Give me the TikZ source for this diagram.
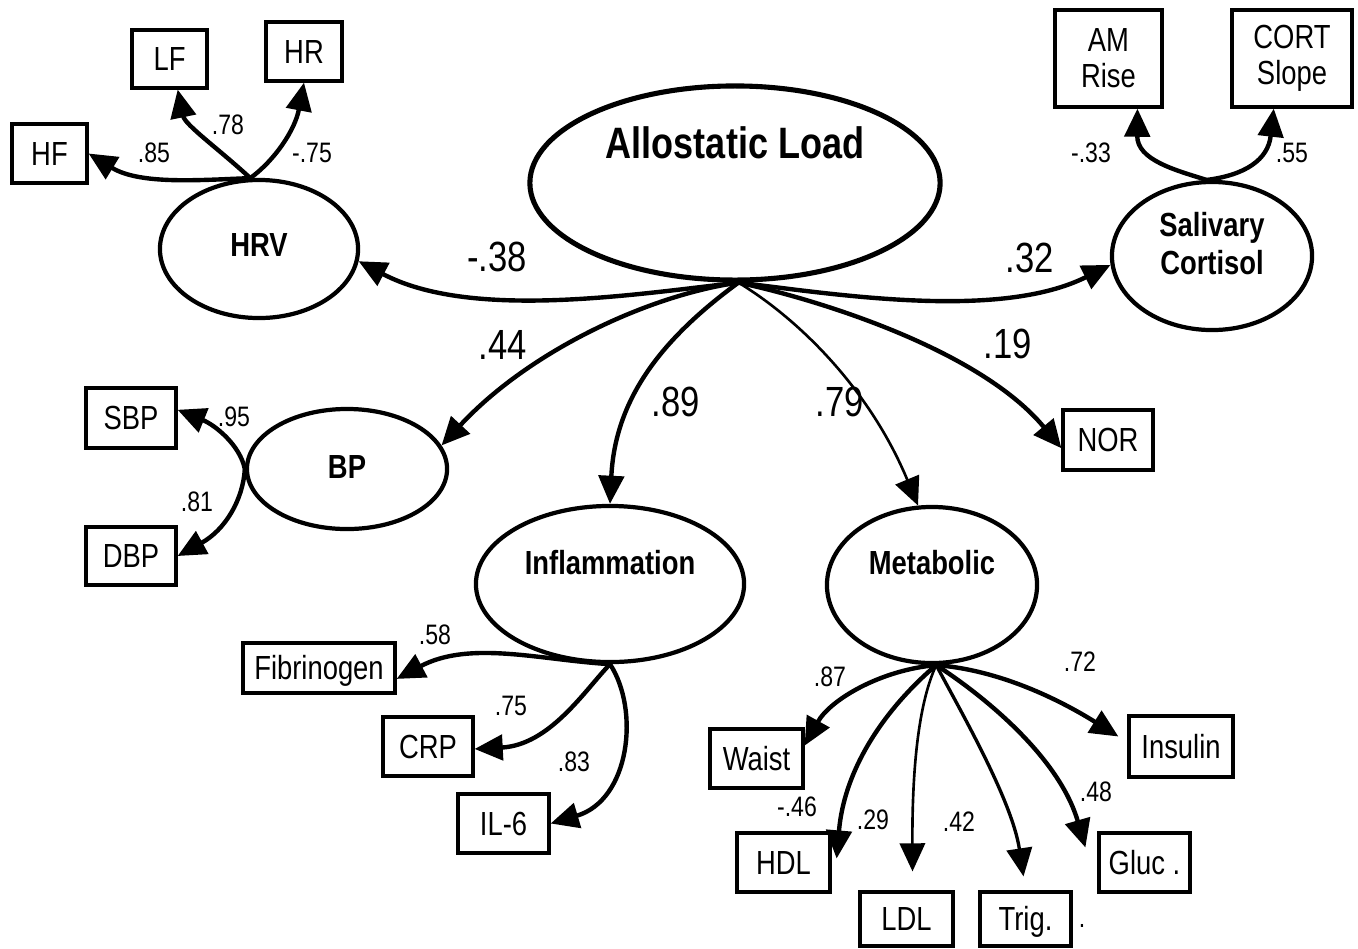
\documentclass[tikz,border=0pt]{standalone}
\usepackage{fontspec}
\setmainfont{Liberation Sans}[FakeStretch=0.82]
\usetikzlibrary{shapes.geometric,arrows.meta,calc}

\begin{document}
\begin{tikzpicture}[x=0.01cm,y=-0.01cm,
  lat/.style={ellipse,draw,line width=1.2pt,inner sep=0pt},
  obs/.style={rectangle,draw,line width=0.9pt,inner sep=0pt,
    font=\fontsize{9.5}{10.3}\selectfont,align=center},
  obsone/.style={obs,text height=6.8pt,text depth=0pt},
  lattext/.style={font=\fontsize{9.5}{10.8}\selectfont\bfseries,align=center},
  big/.style={font=\fontsize{12}{14}\selectfont},
  small/.style={font=\fontsize{8}{9.6}\selectfont},
  conn/.style={line width=1.25pt,-{Triangle[length=8pt,width=7.2pt]}},
  thinconn/.style={conn,line width=0.75pt}
]
\useasboundingbox (0,0) rectangle (1358,948);

% latent variables
\node[lat,line width=1.45pt,minimum width=4.10cm,minimum height=1.94cm] (al) at (735,183) {};
\node[lattext,font=\fontsize{12.5}{15}\selectfont\bfseries] (alt) at ($(al)+(0,-40)$) {Allostatic Load};
\node[lat,minimum width=1.98cm,minimum height=1.38cm] (hrv) at (259,249) {};
\node[lattext] (hrvt) at ($(hrv)+(0,-4)$) {HRV};
\node[lat,minimum width=2.00cm,minimum height=1.48cm] (sal) at (1212,256) {};
\node[lattext] (salt) at ($(sal)+(0,-12)$) {Salivary\\Cortisol};
\node[lat,minimum width=2.00cm,minimum height=1.20cm] (bp) at (347,469) {};
\node[lattext] (bpt) at ($(bp)+(0,-2)$) {BP};
\node[lat,minimum width=2.68cm,minimum height=1.56cm] (infl) at (610,584) {};
\node[lattext] (inflt) at ($(infl)+(0,-21)$) {Inflammation};
\node[lat,minimum width=2.10cm,minimum height=1.56cm] (met) at (932,585) {};
\node[lattext] (mett) at ($(met)+(0,-22)$) {Metabolic};

% observed indicators
\node[obsone,minimum width=0.75cm,minimum height=0.59cm] (hf) at (49.5,153.5) {HF};
\node[obsone,minimum width=0.75cm,minimum height=0.58cm] (lf) at (169.5,59) {LF};
\node[obsone,minimum width=0.76cm,minimum height=0.59cm] (hr) at (304,51.5) {HR};
\node[obs,minimum width=1.07cm,minimum height=0.97cm] (am) at (1108.5,58.5) {AM\\Rise};
\node[obs,minimum width=1.20cm,minimum height=0.97cm] (cort) at (1292,58.5) {CORT\\Slope};
\node[obsone,minimum width=0.90cm,minimum height=0.60cm] (sbp) at (131,418) {SBP};
\node[obsone,minimum width=0.90cm,minimum height=0.58cm] (dbp) at (131,556) {DBP};
\node[obsone,minimum width=0.90cm,minimum height=0.60cm] (nor) at (1108,440) {NOR};
\node[obsone,minimum width=1.52cm,minimum height=0.50cm] (fib) at (319,668) {Fibrinogen};
\node[obsone,minimum width=0.90cm,minimum height=0.59cm] (crp) at (428,746.5) {CRP};
\node[obsone,minimum width=0.91cm,minimum height=0.59cm] (il6) at (503.5,823.5) {IL-6};
\node[obsone,minimum width=0.93cm,minimum height=0.59cm] (waist) at (756.5,758.5) {Waist};
\node[obsone,minimum width=1.04cm,minimum height=0.61cm] (ins) at (1181,746.5) {Insulin};
\node[obsone,minimum width=0.93cm,minimum height=0.59cm] (hdl) at (783.5,862.5) {HDL};
\node[obsone,minimum width=0.93cm,minimum height=0.54cm] (ldl) at (906.5,919) {LDL};
\node[obsone,minimum width=0.91cm,minimum height=0.54cm] (trig) at (1025.5,919) {Trig.};
\node[obsone,minimum width=0.91cm,minimum height=0.59cm] (gluc) at (1144.5,862.5) {Gluc .};
\node[small] (dot) at (1082,926) {.};

% structural paths
\draw[conn] (al.-88) .. controls (630,295) and (470,320) .. (hrv.-7);
\draw[conn] (al.-88) .. controls (840,295) and (1000,320) .. (sal.185);
\draw[conn] (al.-88) .. controls (650,295) and (530,350) .. (bp.14);
\draw[conn] (al.-88) .. controls (660,340) and (615,400) .. (infl.north);
\draw[thinconn] (al.-88) .. controls (800,320) and (870,390) .. (met.100);
\draw[conn] (al.-88) .. controls (820,300) and (980,350) .. (nor.190);

\node[big] (l38) at (497,257) {-.38};
\node[big] (l32) at (1030,258) {.32};
\node[big] (l44) at (503,345) {.44};
\node[big] (l89) at (676,402) {.89};
\node[big] (l79) at (840,402) {.79};
\node[big] (l19) at (1008,344) {.19};

% HRV loadings
\draw[conn] (hrv.97) .. controls (200,180) and (140,185) .. (hf.east);
\draw[conn] (hrv.97) .. controls (220,150) and (185,125) .. (lf.-75);
\draw[conn] (hrv.97) .. controls (275,160) and (295,130) .. (hr.south);
\node[small] (l85) at (154,153) {.85};
\node[small] (l78) at (228,125) {.78};
\node[small] (l75a) at (312,153) {-.75};

% cortisol loadings
\draw[conn] (sal.94) .. controls (1175,170) and (1137,160) .. (am.-60);
\draw[conn] (sal.94) .. controls (1245,175) and (1268,160) .. (cort.-110);
\node[small] (l33) at (1091,153) {-.33};
\node[small] (l55) at (1292,153) {.55};

% blood pressure loadings
\draw[conn] (bp.west) .. controls (240,445) and (215,425) .. (sbp.10);
\draw[conn] (bp.west) .. controls (243,500) and (225,530) .. (dbp.east);
\node[small] (l95) at (234,417) {.95};
\node[small] (l81) at (197,502) {.81};

% inflammation loadings
\draw[conn] (infl.south) .. controls (540,660) and (470,640) .. (fib.-8);
\draw[conn] (infl.south) .. controls (585,690) and (550,745) .. (crp.-3);
\draw[conn] (infl.south) .. controls (640,710) and (630,800) .. (il6.east);
\node[small] (l58) at (435,635) {.58};
\node[small] (l75b) at (511,706) {.75};
\node[small] (l83) at (574,762) {.83};

% metabolic loadings
\draw[conn] (met.-87) .. controls (880,670) and (830,700) .. (waist.15);
\draw[conn] (met.-87) .. controls (895,700) and (845,760) .. ($(hdl.east)+(5,-4)$);
\draw[thinconn] (met.-87) .. controls (920,700) and (912,760) .. ($(ldl.north)+(6,-19)$);
\draw[conn,line width=0.95pt] (met.-87) .. controls (960,710) and (1012,800) .. ($(trig.north)+(-2,-14)$);
\draw[conn] (met.-87) .. controls (990,700) and (1060,760) .. ($(gluc.west)+(-12,-15)$);
\draw[conn] (met.-87) .. controls (1000,670) and (1060,700) .. ($(ins.west)+(-9,-10)$);
\node[small] (l87) at (830,677) {.87};
\node[small] (l72) at (1080,662) {.72};
\node[small] (l46) at (797,807) {-.46};
\node[small] (l29) at (873,820) {.29};
\node[small] (l42) at (959,822) {.42};
\node[small] (l48) at (1096,792) {.48};
\end{tikzpicture}
\end{document}
